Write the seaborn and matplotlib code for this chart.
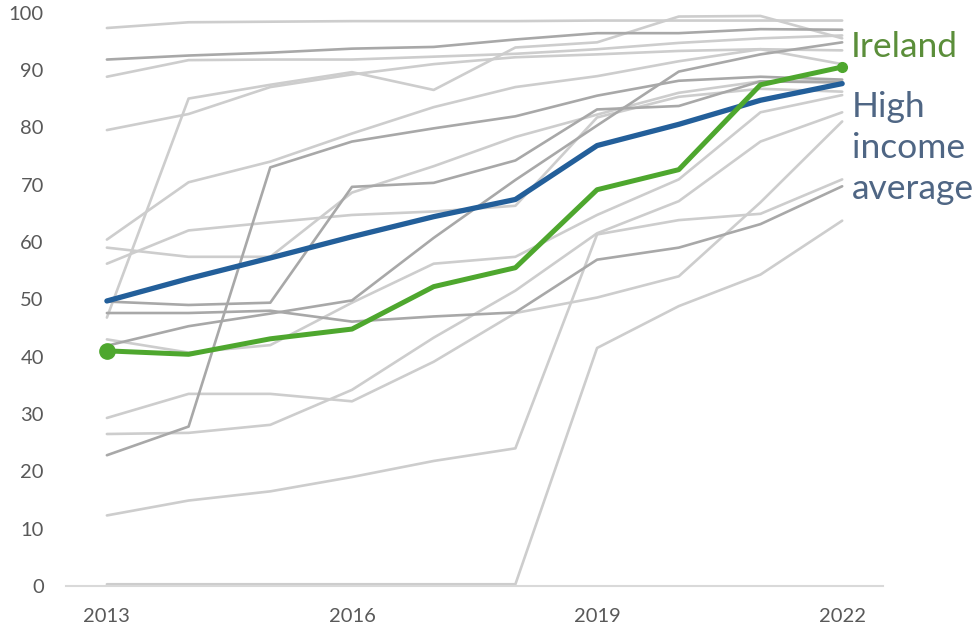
import matplotlib
matplotlib.use("Agg")
import matplotlib.pyplot as plt
import seaborn as sns
import pandas as pd

years = [2013, 2014, 2015, 2016, 2017, 2018, 2019, 2020, 2021, 2022]

ireland = [41.0, 40.4, 43.1, 44.8, 52.2, 55.5, 69.1, 72.6, 87.4, 90.5]
high_income_avg = [49.7, 53.6, 57.2, 60.9, 64.4, 67.4, 76.8, 80.5, 84.7, 87.6]

# Other high-income countries (light grey)
light_series = {
    "c01": [97.3, 98.3, 98.4, 98.5, 98.5, 98.5, 98.6, 98.6, 98.6, 98.6],
    "c02": [88.8, 91.7, 91.8, 91.8, 92.3, 92.8, 93.6, 94.7, 95.5, 96.0],
    "c03": [79.5, 82.3, 87.0, 89.2, 91.0, 92.2, 92.7, 93.3, 93.6, 93.4],
    "c04": [46.8, 85.0, 87.4, 89.6, 86.5, 93.9, 94.8, 99.3, 99.4, 95.5],
    "c05": [60.4, 70.4, 74.0, 78.9, 83.5, 87.0, 88.9, 91.5, 93.6, 91.0],
    "c06": [59.0, 57.4, 57.4, 68.6, 73.2, 78.3, 82.2, 86.0, 88.0, 88.0],
    "c07": [56.2, 62.0, 63.4, 64.7, 65.3, 66.3, 81.7, 85.3, 86.7, 86.2],
    "c08": [43.0, 40.7, 42.0, 49.4, 56.2, 57.4, 64.7, 70.9, 82.6, 85.6],
    "c09": [26.5, 26.7, 28.1, 34.2, 43.3, 51.5, 61.5, 67.1, 77.5, 82.6],
    "c10": [29.3, 33.5, 33.5, 32.2, 39.1, 47.6, 50.3, 54.0, 66.9, 81.0],
    "c11": [12.3, 14.9, 16.5, 19.0, 21.8, 24.0, 61.3, 63.8, 64.9, 70.9],
    "c12": [0.3, 0.3, 0.3, 0.3, 0.3, 0.3, 41.5, 48.8, 54.3, 63.7],
}

# Other high-income countries (darker grey)
dark_series = {
    "d01": [91.8, 92.5, 93.0, 93.7, 94.0, 95.3, 96.4, 96.4, 97.1, 97.0],
    "d02": [49.6, 49.0, 49.4, 69.6, 70.3, 74.2, 83.1, 83.7, 88.0, 87.8],
    "d03": [22.8, 27.8, 73.0, 77.5, 79.8, 81.9, 85.5, 88.1, 88.8, 88.3],
    "d04": [41.9, 45.3, 47.5, 49.8, 60.7, 70.8, 80.3, 89.7, 92.7, 94.8],
    "d05": [47.6, 47.6, 48.0, 46.1, 47.0, 47.7, 56.9, 59.0, 63.1, 69.7],
}

y_ticks = [0, 10, 20, 30, 40, 50, 60, 70, 80, 90, 100]
x_ticks = [2013, 2016, 2019, 2022]

LIGHT = "#cdcdcd"
DARK = "#a8a8a8"
GREEN = "#4ea72e"
BLUE = "#235f9a"

def long_frame(series):
    rows = []
    for name, vals in series.items():
        for yr, v in zip(years, vals):
            rows.append({"country": name, "year": yr, "value": v})
    return pd.DataFrame(rows)

sns.set_theme(style="white")
plt.rcParams["font.family"] = ["Lato", "DejaVu Sans"]

fig = plt.figure(figsize=(9.74, 6.29), dpi=100)
ax = fig.add_axes([0.0678, 0.0684, 0.8388, 0.9117])

sns.lineplot(data=long_frame(light_series), x="year", y="value", units="country",
             estimator=None, color=LIGHT, lw=1.9, ax=ax, legend=False)
sns.lineplot(data=long_frame(dark_series), x="year", y="value", units="country",
             estimator=None, color=DARK, lw=1.9, ax=ax, legend=False)
sns.lineplot(x=years, y=high_income_avg, color=BLUE, lw=3.8, ax=ax, legend=False)
sns.lineplot(x=years, y=ireland, color=GREEN, lw=3.6, ax=ax, legend=False)
ax.plot([years[0]], [ireland[0]], "o", color=GREEN, ms=11, zorder=5, clip_on=False)
ax.plot([years[-1]], [ireland[-1]], "o", color=GREEN, ms=7, zorder=5, clip_on=False)

for line in ax.lines:
    line.set_clip_on(False)
    line.set_solid_capstyle("round")
    line.set_solid_joinstyle("round")

ax.set_xlim(2012.5, 2022.5)
ax.set_ylim(0, 100)
ax.set_xticks(x_ticks)
ax.set_yticks(y_ticks)
ax.set_xlabel("")
ax.set_ylabel("")
ax.tick_params(axis="both", length=0, labelsize=14.5, labelcolor="#595959")
ax.tick_params(axis="y", pad=16)
ax.tick_params(axis="x", pad=16)

for side in ["top", "right", "left"]:
    ax.spines[side].set_visible(False)
ax.spines["bottom"].set_color("#d9d9d9")
ax.spines["bottom"].set_linewidth(1.5)

ax.text(2022.1, ireland[-1] + 3.4, "Ireland", color="#5b8e3a", fontsize=25.5,
        ha="left", va="center", clip_on=False)
ax.text(2022.12, high_income_avg[-1] - 1.2, "High\nincome\naverage", color="#4f6684",
        fontsize=25.5, ha="left", va="top", linespacing=1.36, clip_on=False)

fig.savefig("out.png", dpi=100, facecolor="white")
